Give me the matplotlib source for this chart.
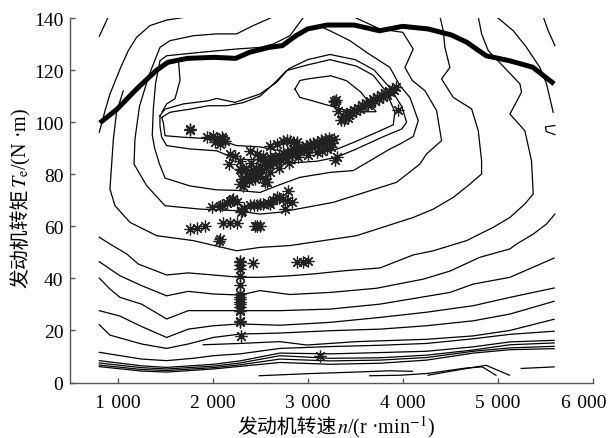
import matplotlib
matplotlib.use("Agg")
import matplotlib.pyplot as plt
from matplotlib.transforms import IdentityTransform, ScaledTranslation

plt.rcParams['font.family'] = ['Liberation Serif', 'Noto Sans CJK SC', 'DejaVu Sans']
plt.rcParams['mathtext.fontset'] = 'stix'

# ---------------- data ----------------
xticks = [1000, 2000, 3000, 4000, 5000, 6000]
xtick_labels = ['1\u2004000', '2\u2004000', '3\u2004000', '4\u2004000', '5\u2004000', '6\u2004000']
yticks = [0, 20, 40, 60, 80, 100, 120, 140]
xlabel_cn = '发动机转速'
xlabel_en = '$n$/(r ·min$^{-1}$)'
ylabel_cn = '发动机转矩'
ylabel_en = '$T_\\mathrm{e}$/(N ·m)'

# maximum torque curve
wot_n = [814, 998, 1202, 1406, 1529, 1733, 2019, 2243, 2386, 2591, 2734, 2876, 2999, 3203, 3489,
         3754, 3999, 4265, 4510, 4673, 4877, 5122, 5367, 5592]
wot_T = [99.7, 105.1, 112.8, 119.8, 123.0, 124.5, 124.9, 124.5, 126.8, 128.7, 129.4, 133.2, 135.8,
         137.3, 137.3, 135.1, 136.8, 135.8, 133.5, 130.7, 125.5, 123.6, 121.1, 114.7]

# contour lines (speed r/min, torque N.m)
c_topleft_n = [808, 903]
c_topleft_T = [133, 140.5]

c_left_n = [1744, 1516, 1341, 1201, 1113, 1026, 920, 868, 808]
c_left_T = [140.5, 139.2, 137.1, 132.6, 127.5, 120.4, 110.8, 104.4, 96.1]

ring1_n = [4391, 4426, 4443, 4496, 4408, 4531, 4724, 4794, 4829, 4829, 4706, 4531, 4321, 4110, 3514,
           2813, 2498, 2253, 1797, 1411, 1131, 973, 920, 940, 956, 990, 1060]
ring1_T = [140.5, 135.1, 128.7, 121.0, 116.6, 109.5, 105.1, 96.7, 85.2, 80.1, 76.2, 71.1, 66.6, 63.4,
           56.4, 52.6, 51.9, 50.6, 54.5, 56.4, 61.5, 67.9, 74.3, 85.0, 93.5, 104.0, 112.0]

ringA_n = [3479, 3759, 4000, 4110, 4023, 4100, 4233, 4356, 4408, 4250, 4180, 3935, 3269, 2708, 2498,
           2253, 1867, 1499, 1306, 1173, 1183, 1230, 1330, 1446, 1551, 1797, 2042, 2252, 2428, 2638]
ringA_T = [140.5, 135.8, 134.5, 128.1, 121.0, 116.0, 112.1, 104.4, 92.9, 87.8, 83.9, 76.9, 69.2, 65.4,
           64.7, 66.0, 66.6, 67.9, 75.6, 83.9, 93.5, 106.0, 118.0, 128.7, 131.3, 133.2, 133.9, 133.9,
           137.1, 140.5]

ring3_n = [2960, 2813, 2638, 2498, 2252, 1867, 1516, 1446, 1400, 1376, 1365, 1390, 1440, 1500, 1762,
           2042, 2250, 2498, 2708, 2918, 3234, 3479, 3689, 3865, 3970, 4110, 4163, 4075, 3970, 3865,
           3619, 3444, 3234, 3150]
ring3_T = [140.5, 133.2, 130.0, 128.7, 128.1, 126.8, 125.5, 123.6, 115.0, 105.0, 95.0, 90.0, 84.0,
           78.5, 75.5, 74.0, 73.8, 73.0, 76.0, 78.8, 80.7, 81.4, 85.9, 89.7, 91.6, 94.5, 100.6, 109.5,
           114.0, 121.0, 126.8, 131.3, 135.1, 136.5]

ring2c_n = [1640, 1657, 1604, 1516, 1470]
ring2c_T = [124.0, 116.0, 109.0, 107.0, 104.0]

ring2b_n = [1446, 1499, 1692, 1954, 2042, 2235, 2498, 2673, 2800, 3000, 3234, 3500, 3700, 3870, 3990,
            4040, 3990, 3800, 3500, 3300, 3100, 2900, 2700, 2500, 2252, 2042, 1762, 1516, 1464, 1446,
            1446]
ring2b_T = [102.5, 105.0, 107.0, 108.2, 109.1, 107.6, 110.8, 115.3, 120.5, 124.0, 126.0, 124.0, 120.0,
            113.0, 106.0, 100.0, 97.4, 94.5, 89.5, 86.5, 85.0, 84.5, 84.5, 85.5, 85.8, 89.0, 89.7,
            91.0, 94.2, 98.6, 102.5]

ring2a_n = [1464, 1551, 1762, 1954, 2147, 2322, 2500, 2650, 2778, 3000, 3234, 3514, 3689, 3820, 3917,
            3900, 3750, 3500, 3300, 3100, 2900, 2700, 2500, 2252, 2042, 1692, 1499, 1481, 1464]
ring2a_T = [101.8, 103.8, 105.0, 106.3, 106.3, 107.5, 110.0, 115.0, 119.8, 122.0, 124.0, 121.5, 118.0,
            112.0, 104.0, 99.0, 96.5, 92.5, 89.5, 88.5, 88.0, 89.0, 90.5, 91.0, 93.5, 94.2, 94.8,
            99.9, 101.8]

island_n = [2866, 2918, 2999, 3244, 3409, 3560, 3720, 3600, 3409, 3164, 3040, 2918, 2866]
island_T = [112.7, 116.0, 116.6, 117.8, 115.9, 111.5, 104.0, 104.0, 104.5, 107.0, 108.3, 109.5, 112.7]

c_right1_n = [4986, 5162, 5302, 5442, 5512, 5582]
c_right1_T = [140.5, 135.1, 128.7, 121.0, 114.7, 103.8]

c_right2_n = [5477, 5530, 5600]
c_right2_T = [140.5, 135.1, 129.4]

c_hook_n = [5600, 5500, 5510, 5600]
c_hook_T = [98.7, 98.2, 96.4, 95.2]

ring55_n = [808, 920, 1096, 1218, 1516, 1744, 2007, 2288, 2498, 2813, 3058, 3409, 3760, 4110, 4321,
            4671, 4951, 5127, 5284, 5372, 5354, 5284, 5127, 5249, 5232, 4899, 4829, 4794]
ring55_T = [55.8, 53.2, 49.4, 45.5, 41.3, 42.1, 41.3, 40.4, 40.4, 41.0, 41.7, 43.0, 44.0, 49.0, 50.6,
            54.5, 59.6, 63.4, 68.6, 72.4, 85.2, 96.7, 103.1, 111.5, 114.7, 127.5, 133.9, 140.5]

l46_n = [808, 920, 1026, 1253, 1516, 1744, 2007, 2288, 2498, 2813, 3234, 3724, 4215, 4496, 4811, 5126,
         5197, 5372, 5512, 5600]
l46_T = [46.4, 43.6, 41.0, 37.2, 33.3, 35.0, 34.0, 33.6, 35.3, 33.8, 34.6, 36.2, 39.7, 42.8, 48.1,
         51.3, 53.2, 57.0, 60.9, 64.7]

l40_n = [808, 920, 1026, 1253, 1516, 1744, 2007, 2288, 2708, 3234, 3760, 4496, 4741, 5127, 5592]
l40_T = [40.1, 35.9, 32.7, 30.1, 24.4, 27.6, 27.6, 27.6, 27.6, 28.2, 30.1, 34.6, 37.8, 40.4, 47.8]

l28_n = [808, 1026, 1253, 1516, 1744, 2007, 2288, 2708, 3234, 3760, 4250, 4741, 5127, 5592]
l28_T = [27.6, 25.5, 21.5, 17.3, 20.5, 21.8, 22.5, 22.0, 23.1, 25.0, 27.0, 29.5, 32.7, 36.3]

l22_n = [808, 920, 1253, 1516, 1744, 2007, 2288, 2708, 3234, 3760, 4250, 4741, 5127, 5592]
l22_T = [22.2, 18.2, 14.8, 13.1, 14.8, 17.3, 18.6, 19.0, 19.9, 20.5, 21.8, 23.7, 26.3, 31.2]

l15_n = [1900, 2288, 2708, 2990, 3514, 4250, 4741, 5127, 5592]
l15_T = [14.5, 15.0, 15.7, 14.4, 15.7, 16.6, 17.9, 20.0, 24.3]

l12_n = [808, 1253, 1516, 1797, 2007, 2288, 2708, 3234, 3760, 4250, 4741, 5127, 5592]
l12_T = [11.6, 9.0, 8.4, 9.3, 10.3, 11.0, 13.1, 13.8, 14.3, 15.0, 16.8, 18.5, 19.7]

l8a_n = [808, 1253, 1516, 2007, 2288, 2708, 3234, 3760, 4250, 4741, 5127, 5592]
l8a_T = [8.4, 6.4, 5.8, 7.0, 8.3, 11.3, 11.0, 11.5, 12.0, 13.7, 15.6, 16.2]

l8b_n = [808, 1253, 1516, 2007, 2288, 2708, 3234, 3760, 4250, 4741, 5127, 5592]
l8b_T = [7.5, 5.7, 5.2, 6.3, 7.5, 10.3, 9.3, 9.5, 10.5, 12.5, 14.5, 15.2]

l8c_n = [808, 1253, 1516, 2007, 2288, 2708, 3234, 3760, 4250, 4741, 5127, 5592]
l8c_T = [6.7, 5.0, 4.6, 5.7, 6.8, 9.0, 8.3, 8.6, 9.6, 12.0, 13.3, 13.9]

l8d_n = [808, 1253, 1516, 2007, 2288, 2708, 3234, 3760, 4250, 4741, 5127, 5592]
l8d_T = [6.1, 4.4, 4.0, 5.2, 6.2, 7.7, 7.0, 7.4, 8.6, 11.3, 12.6, 13.0]

b1_n = [2490, 3000, 3500, 3860, 4100]
b1_T = [2.6, 3.4, 4.0, 4.5, 4.3]
b2_n = [3652, 3980, 4265, 4673, 4837, 4980]
b2_T = [2.6, 2.8, 3.5, 5.6, 6.0, 2.8]
b3_n = [4265, 4673, 4877, 5122]
b3_T = [2.8, 5.4, 6.6, 2.8]
b4_n = [5245, 5592]
b4_T = [5.4, 6.0]

contours = [
    (c_topleft_n, c_topleft_T), (c_left_n, c_left_T), (ring1_n, ring1_T), (ringA_n, ringA_T),
    (ring3_n, ring3_T), (ring2c_n, ring2c_T), (ring2b_n, ring2b_T), (ring2a_n, ring2a_T),
    (island_n, island_T), (c_right1_n, c_right1_T), (c_right2_n, c_right2_T), (c_hook_n, c_hook_T),
    (ring55_n, ring55_T), (l46_n, l46_T), (l40_n, l40_T), (l28_n, l28_T), (l22_n, l22_T),
    (l15_n, l15_T), (l12_n, l12_T), (l8a_n, l8a_T), (l8b_n, l8b_T), (l8c_n, l8c_T), (l8d_n, l8d_T),
    (b1_n, b1_T), (b2_n, b2_T), (b3_n, b3_T), (b4_n, b4_T),
]

# operating points (asterisks)
stack_n = [2290, 2290, 2290, 2290, 2290, 2290, 2290, 2290, 2290, 2290, 2290, 2290, 2290, 2290, 2290,
           2290, 2295, 2420]
stack_T = [46.8, 46.1, 45.0, 43.6, 41.0, 37.4, 34.0, 33.0, 32.0, 31.0, 30.0, 29.0, 28.0, 27.4, 23.7,
           23.1, 18.0, 45.9]

mid_n = [2883, 2953, 3006, 2070, 2075, 1762, 1832, 1919, 2112, 2182, 2252, 2445, 2470, 2498, 3130]
mid_T = [46.4, 46.4, 46.8, 54.5, 55.0, 59.0, 59.2, 60.2, 61.3, 61.3, 61.3, 60.2, 60.1, 60.0, 10.0]

band67_n = [1989, 2077, 2100, 2150, 2182, 2200, 2217, 2252, 2300, 2305, 2330, 2393, 2430, 2470, 2498,
            2530, 2580, 2603, 2640, 2673, 2700, 2743, 2780, 2760, 2831, 2796]
band67_T = [67.3, 67.9, 68.3, 69.0, 69.8, 70.0, 70.5, 69.2, 65.5, 66.0, 67.0, 68.0, 68.2, 68.3, 68.6,
            68.5, 69.0, 68.6, 70.0, 71.1, 70.8, 70.5, 69.8, 66.6, 69.2, 73.7]

main_n = [2330, 2340, 2360, 2380, 2400, 2420, 2440, 2460, 2480, 2500, 2520, 2540, 2560, 2580, 2600,
          2620, 2640, 2660, 2680, 2700, 2720, 2740, 2760, 2780, 2800, 2820, 2840, 2860, 2880, 2900,
          2920, 2940, 2960, 2980, 3000, 3020, 3040, 3060, 3080, 3100, 3120, 3140, 3160, 3180, 3200,
          3220, 3240, 3260, 3280, 3240, 3200, 3150, 3100, 3000, 2900, 2800, 2700, 2600, 2500, 2450,
          2550, 2350, 2400, 2500, 2600, 2305, 2287, 2322, 2568, 2550, 2300, 2287, 2172, 3304, 3290]
main_T = [76.5, 78.5, 79.5, 77.5, 80.5, 81.5, 79.0, 82.0, 80.5, 83.0, 81.5, 84.0, 82.5, 85.0, 83.5,
          86.0, 84.5, 86.5, 85.0, 87.0, 85.5, 88.0, 86.5, 88.5, 87.0, 89.0, 87.5, 89.5, 88.5, 90.0,
          88.8, 90.5, 89.5, 91.0, 90.0, 91.5, 90.5, 92.0, 91.0, 92.5, 91.5, 93.0, 92.0, 93.5, 92.5,
          94.0, 93.0, 92.0, 93.5, 90.5, 89.5, 89.0, 88.5, 87.5, 86.5, 84.5, 82.5, 81.0, 79.5, 78.0,
          77.0, 82.0, 84.5, 86.0, 86.5, 78.2, 76.2, 75.6, 76.9, 78.2, 81.5, 82.0, 84.0, 86.5, 85.5]

upper_n = [2182, 2235, 2287, 2393, 2463, 2533, 2603, 2673, 2743, 2780, 2813, 2850, 2883, 1762, 1760,
           1937, 2007, 2042, 2095, 2130, 2024, 2077, 2110]
upper_T = [87.8, 87.1, 85.2, 89.0, 87.8, 87.1, 91.0, 91.6, 92.9, 93.2, 92.9, 92.5, 92.2, 97.4, 96.8,
           94.2, 94.8, 93.5, 94.2, 92.9, 92.2, 91.6, 93.5]

high_n = [3275, 3295, 3290, 3321, 3950, 3350, 3370, 3390, 3410, 3430, 3450, 3470, 3490, 3510, 3530,
          3550, 3570, 3590, 3610, 3630, 3650, 3670, 3690, 3710, 3730, 3750, 3770, 3790, 3810, 3830,
          3850, 3870, 3890, 3910, 3930, 3380, 3420]
high_T = [108.2, 108.6, 107.6, 104.4, 104.5, 101.0, 102.5, 101.8, 103.2, 102.6, 104.0, 103.4, 104.8,
          104.2, 105.6, 105.0, 106.4, 105.8, 107.2, 106.6, 108.0, 107.4, 108.8, 108.2, 109.6, 109.0,
          110.4, 109.8, 111.2, 110.6, 112.0, 111.4, 112.8, 112.2, 113.6, 100.8, 101.6]

points = [(stack_n, stack_T), (mid_n, mid_T), (band67_n, band67_T), (main_n, main_T),
          (upper_n, upper_T), (high_n, high_T)]

# ---------------- figure ----------------
W, H = 610, 439
fig = plt.figure(figsize=(W / 100, H / 100), dpi=100)
ax = fig.add_axes([0.1148, 0.1264, 0.8572, 0.8303])

for n, T in contours:
    ax.plot(n, T, color='black', lw=0.9, solid_joinstyle='miter')

ax.plot(wot_n, wot_T, color='black', lw=3.6, solid_capstyle='butt')

for n, T in points:
    ax.plot(n, T, linestyle='none', marker=(8, 2, 0), markersize=8.5, color='#222222',
            markeredgewidth=0.9)

ax.set_xlim(500, 6000)
ax.set_ylim(0, 140)
ax.set_xticks(xticks)
ax.set_xticklabels(xtick_labels)
ax.set_yticks(yticks)

for s in ['top', 'right']:
    ax.spines[s].set_visible(False)
for s in ['left', 'bottom']:
    ax.spines[s].set_color('#555555')
    ax.spines[s].set_linewidth(1.0)

ax.tick_params(direction='in', length=3.6, width=1.0, color='#555555', labelsize=14,
               labelcolor='black')
ax.tick_params(axis='x', pad=8.0)
ax.tick_params(axis='y', pad=4.8)

# last x tick label sits a little left of its tick in the reference
lab = ax.get_xticklabels()[-1]
lab.set_transform(lab.get_transform() + ScaledTranslation(-9 / 100, 0, fig.dpi_scale_trans))

# axis titles: Chinese part in a CJK font, Latin part in a serif font
renderer = fig.canvas.get_renderer()
cjk_kw = dict(family=['Noto Sans CJK SC'], fontsize=14.3)
ser_kw = dict(family=['Liberation Serif'], fontsize=14.5)


def place_pieces(pieces, center, base, rotation=0):
    texts, sizes = [], []
    for s, kw in pieces:
        t = fig.text(0, 0, s, transform=IdentityTransform(), rotation=rotation,
                     rotation_mode='anchor', ha='left', va='baseline', **kw)
        bb = t.get_window_extent(renderer)
        texts.append(t)
        sizes.append(bb.width if rotation == 0 else bb.height)
    pos = center - sum(sizes) / 2
    for t, w in zip(texts, sizes):
        if rotation == 0:
            t.set_position((pos, base))
        else:
            t.set_position((base, pos))
        pos += w


place_pieces([(xlabel_cn, cjk_kw), (xlabel_en, ser_kw)], center=336, base=H - 433)
place_pieces([(ylabel_cn, cjk_kw), (ylabel_en, ser_kw)], center=H - 198, base=26, rotation=90)

fig.savefig('out.png', dpi=100)
